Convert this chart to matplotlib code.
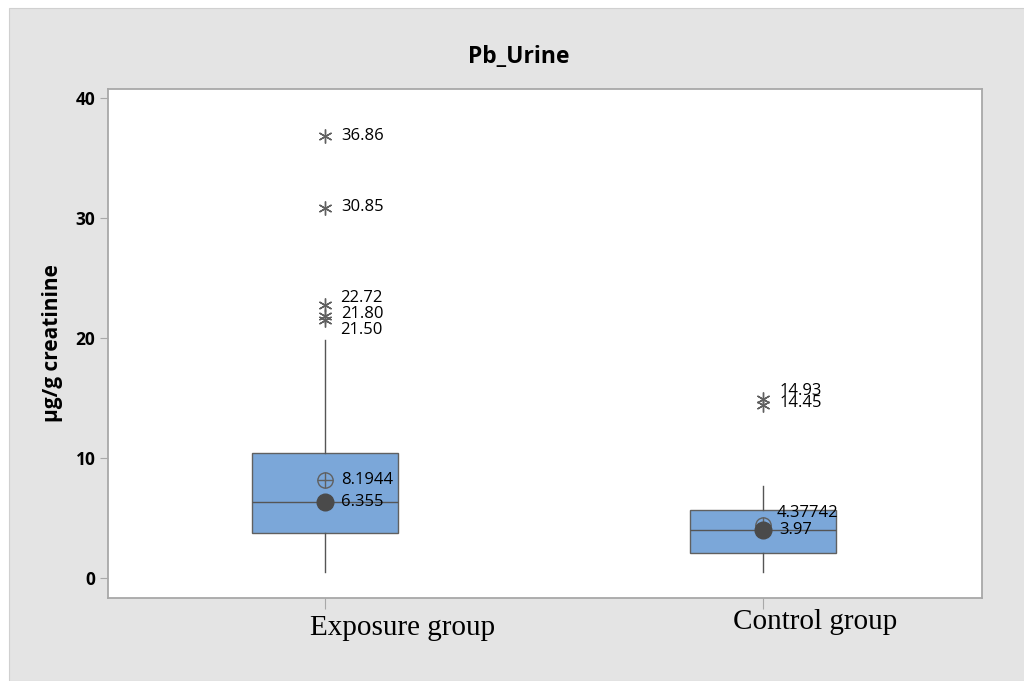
import matplotlib
matplotlib.use("Agg")
import matplotlib.pyplot as plt
from matplotlib.patches import Rectangle
import numpy as np

# Summary statistics per group (µg/g creatinine)
groups = ["Exposure group", "Control group"]
q1 = [3.75, 2.08]
medians = [6.355, 3.97]
q3 = [10.42, 5.67]
whisker_low = [0.5, 0.5]
whisker_high = [19.85, 7.7]
means = [8.1944, 4.37742]
exposure_outliers = [36.86, 30.85, 22.72, 21.80, 21.50]
control_outliers = [14.93, 14.45]

SANS = ["Open Sans", "DejaVu Sans"]
SERIF = ["Liberation Serif", "DejaVu Serif"]
BOX = "#7ba7d9"

fig = plt.figure(figsize=(10.24, 6.81), dpi=100, facecolor="white")
fig.patches.append(Rectangle((9 / 1024, 0), 1, 1 - 8 / 681, transform=fig.transFigure,
                             facecolor="#e4e4e4", edgecolor="#d0d0d0", lw=0.8, zorder=-10))

ax = fig.add_axes([108 / 1024, 1 - 598 / 681, (982 - 108) / 1024, (598 - 89) / 681])
ax.set_facecolor("white")
ax.set_xlim(0.504, 2.5)
ax.set_ylim(-1.67, 40.75)

positions = np.arange(1, len(groups) + 1)
stats = []
for i in range(len(groups)):
    stats.append(dict(med=medians[i], q1=q1[i], q3=q3[i], whislo=whisker_low[i],
                      whishi=whisker_high[i], mean=means[i], fliers=[], label=groups[i]))
ax.bxp(stats, positions=positions, widths=0.333, patch_artist=True, showcaps=False,
       showfliers=False, showmeans=False,
       boxprops=dict(facecolor=BOX, edgecolor="#606060", linewidth=1.0),
       medianprops=dict(color="#555555", linewidth=1.0),
       whiskerprops=dict(color="#555555", linewidth=1.0))

# Outliers as asterisks
for pos, vals in zip(positions, [exposure_outliers, control_outliers]):
    ax.plot([pos] * len(vals), vals, linestyle="none", marker=(6, 2, 0), markersize=10,
            markeredgecolor="#606060", markeredgewidth=1.0, zorder=4)

# Mean (circle with cross) and median (filled dot)
ax.plot(positions, means, linestyle="none", marker="o", markersize=11,
        markerfacecolor="none", markeredgecolor="#606060", markeredgewidth=1.0, zorder=5)
ax.plot(positions, means, linestyle="none", marker="+", markersize=11,
        markeredgecolor="#606060", markeredgewidth=1.0, zorder=5)
ax.plot(positions, medians, linestyle="none", marker="o", markersize=12,
        markerfacecolor="#4a4a4a", markeredgecolor="#4a4a4a", zorder=6)

def label(x, y, text, dx, dy):
    ax.annotate(text, (x, y), xytext=(dx, dy), textcoords="offset pixels",
                ha="left", va="center", fontsize=12, family=SANS, color="black", zorder=7)

label(1, 36.86, "36.86", 16, 0)
label(1, 30.85, "30.85", 16, 1)
label(1, 22.72, "22.72", 15, 7)
label(1, 21.80, "21.80", 16, 2)
label(1, 21.50, "21.50", 15, -10)
label(1, means[0], f"{means[0]:.4f}", 16, 0)
label(1, medians[0], f"{medians[0]:.3f}", 16, 0)
label(2, 14.93, "14.93", 16, 8)
label(2, 14.45, "14.45", 16, 2)
label(2, means[1], f"{means[1]:.5f}", 14, 12)
label(2, medians[1], f"{medians[1]:.2f}", 16, 0)

# Axes styling
for s in ax.spines.values():
    s.set_color("#a8a8a8")
    s.set_linewidth(1.3)
ax.set_yticks([0, 10, 20, 30, 40])
ax.tick_params(axis="y", direction="out", length=6, color="#a8a8a8", pad=3)
for t in ax.get_yticklabels():
    t.set_family(SANS)
    t.set_fontweight("bold")
    t.set_fontsize(12.5)

ax.set_xticks(positions)
ax.set_xticklabels([])
ax.tick_params(axis="x", direction="out", length=8, color="#a8a8a8")
label_offsets = [(77, -30), (52, -24)]
for pos, name, (dx, dy) in zip(positions, groups, label_offsets):
    ax.annotate(name, (pos, 0), xycoords=("data", "axes fraction"), xytext=(dx, dy),
                textcoords="offset pixels", ha="center", va="center",
                fontsize=21, family=SERIF, color="black")

ax.set_ylabel("µg/g creatinine", family=SANS, fontweight="bold", fontsize=15, labelpad=9)
fig.text(519 / 1024, 1 - 57 / 681, "Pb_Urine", ha="center", va="center",
         family=SANS, fontweight="bold", fontsize=16.5)

fig.savefig("out.png", dpi=100, facecolor=fig.get_facecolor())
